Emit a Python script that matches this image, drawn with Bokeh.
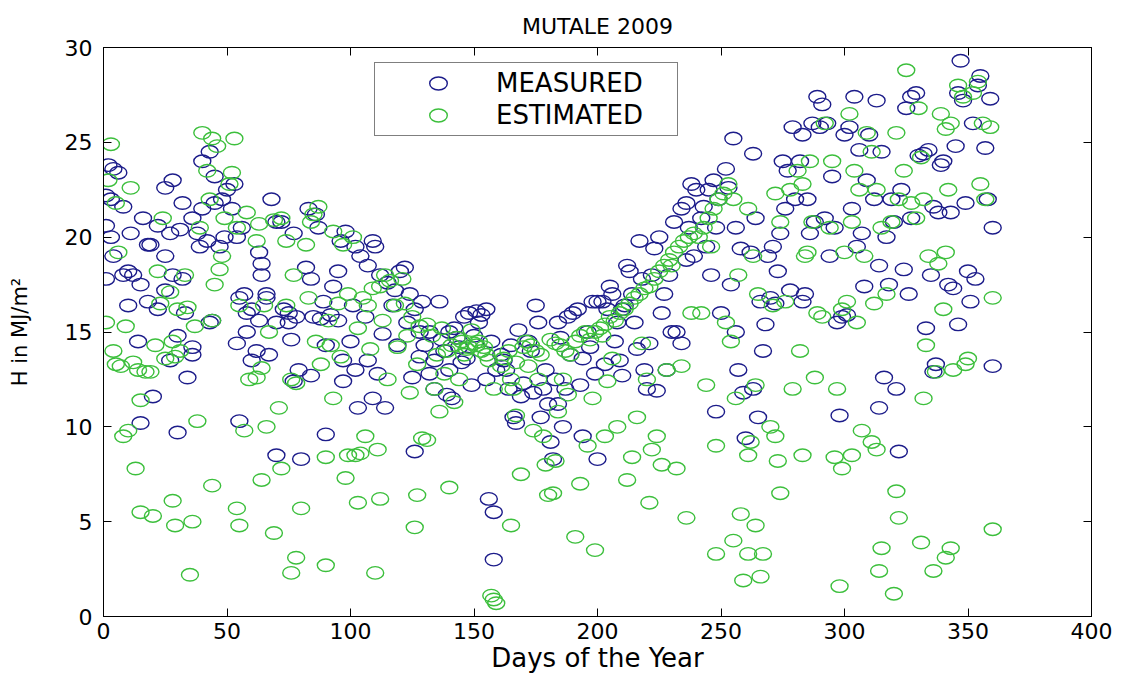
from bokeh.plotting import figure
from bokeh.models import (LinearAxis, FixedTicker, Legend, LegendItem,
                          ColumnDataSource, Range1d)
from bokeh.embed import file_html
from bokeh.resources import INLINE

TITLE = "MUTALE 2009"
X_LABEL = "Days of the Year"
Y_LABEL = "H in MJ/m\u00b2"
X_TICKS = [0, 50, 100, 150, 200, 250, 300, 350, 400]
Y_TICKS = [0, 5, 10, 15, 20, 25, 30]
SERIES_NAMES = ["MEASURED", "ESTIMATED"]

measured_day = [
    2, 4, 6, 1, 1, 3, 4, 8, 1, 8, 3, 10, 10,
    12, 15, 14, 18, 15, 20, 18, 19, 16, 11,
    22, 25, 27, 25, 22, 28, 30, 30, 27, 28, 25,
    32, 31, 32, 36, 36, 34, 38, 39, 40, 40, 36, 33,
    43, 45, 48, 42, 45, 44, 43, 47, 50, 49,
    53, 54, 55, 54, 55, 57, 58, 60, 58, 56, 52, 60,
    63, 64, 63, 66, 67, 68, 70, 70, 66, 62, 70, 64,
    73, 75, 78, 77, 77, 80, 75, 72, 76, 79,
    83, 86, 87, 84, 82, 85, 84, 88, 90, 89,
    92, 90, 93, 96, 95, 97, 95, 98, 100, 97,
    102, 104, 101, 102, 103, 107, 109, 106, 107, 109,
    110, 112, 115, 118, 113, 111, 114, 117, 120, 119,
    122, 124, 126, 123, 128, 125, 126, 130, 128, 129,
    132, 134, 132, 137, 136, 138, 140, 139, 140, 134,
    143, 145, 146, 148, 150, 147, 149, 142, 141, 144,
    151, 153, 155, 157, 156, 158, 158, 159, 152, 155,
    162, 163, 165, 166, 167, 164, 168, 170, 169, 161,
    172, 175, 176, 174, 177, 178, 173, 179, 180, 181,
    182, 183, 185, 188, 190, 187, 186, 184, 189, 184,
    192, 194, 193, 194, 196, 198, 197, 199, 200, 200,
    202, 204, 203, 206, 208, 210, 207, 209, 205, 210,
    212, 214, 215, 217, 218, 219, 213, 216, 220, 211,
    222, 223, 224, 227, 226, 228, 230, 229, 225, 221,
    234, 236, 237, 238, 240, 232, 234, 239, 236, 231,
    242, 245, 247, 248, 248, 250, 244, 243, 246, 249,
    252, 255, 253, 256, 258, 256, 257, 260, 259, 254,
    263, 264, 262, 266, 268, 267, 265, 263, 269, 270,
    275, 277, 279, 276, 274, 278, 272, 280, 271, 273,
    282, 283, 285, 287, 289, 286, 284, 283, 288, 290,
    291, 293, 295, 296, 297, 299, 298, 294, 292, 300,
    304, 302, 306, 303, 305, 308, 307, 309, 301, 310,
    313, 312, 314, 316, 314, 318, 317, 319, 320, 315,
    325, 327, 329, 323, 327, 324, 321, 322, 330, 326,
    332, 334, 336, 338, 335, 333, 337, 339, 336, 340,
    347, 346, 348, 345, 343, 344, 342, 346, 349, 350,
    355, 354, 352, 357, 358, 360, 353, 351, 360, 359,
]
measured_h = [
    23.8, 23.6, 23.4, 22.2, 20.6, 20.0, 19.0, 18.0, 17.8, 21.6, 22.0, 16.4, 18.2,
    18.0, 17.5, 14.5, 19.6, 10.2, 11.6, 16.6, 19.6, 21.0, 20.2,
    20.6, 22.6, 20.2, 17.2, 16.2, 23.0, 14.8, 9.7, 13.5, 18.0, 19.0,
    21.8, 20.4, 17.8, 14.2, 13.8, 12.6, 20.2, 19.5, 21.5, 24.0, 21.0, 16.0,
    24.5, 23.2, 22.0, 19.8, 21.8, 15.6, 15.5, 19.5, 22.5, 20.0,
    22.8, 20.0, 16.8, 14.4, 10.3, 17.0, 16.0, 16.2, 15.0, 20.5, 21.5, 13.5,
    19.2, 18.6, 15.6, 17.0, 13.8, 22.0, 15.5, 8.5, 16.8, 14.0, 20.8, 18.0,
    16.2, 15.5, 15.8, 20.2, 12.4, 8.3, 16.0, 20.8, 14.6, 13.0,
    21.5, 21.2, 20.5, 17.8, 18.4, 15.8, 12.7, 15.7, 9.6, 16.6,
    15.9, 14.3, 17.4, 19.8, 15.6, 13.5, 18.2, 20.3, 14.5, 12.4,
    19.5, 19.0, 16.4, 13.0, 11.0, 18.5, 19.8, 15.8, 13.5, 11.5,
    19.5, 18.0, 17.6, 17.2, 14.9, 12.8, 11.0, 16.4, 18.2, 14.3,
    18.4, 17.0, 16.2, 15.5, 13.7, 12.6, 8.7, 14.3, 15.0, 16.6,
    15.0, 13.5, 12.8, 14.6, 16.6, 14.0, 13.0, 11.7, 15.0, 12.0,
    14.7, 13.4, 15.8, 16.0, 14.8, 13.6, 12.2, 15.2, 11.5, 14.2,
    16.1, 15.9, 16.2, 14.5, 6.2, 5.5, 3.0, 13.0, 15.5, 12.5,
    13.5, 13.0, 14.3, 10.5, 10.2, 12.0, 15.1, 12.3, 11.6, 13.8,
    14.5, 16.4, 15.5, 11.8, 10.5, 12.0, 14.0, 13.0, 11.2, 9.2,
    8.3, 12.5, 14.7, 15.8, 16.0, 12.0, 10.0, 11.2, 13.8, 15.5,
    16.2, 13.6, 12.2, 9.5, 15.0, 16.6, 14.2, 12.8, 8.3, 16.6,
    16.6, 16.2, 13.3, 17.0, 15.5, 16.2, 14.5, 13.5, 17.4, 12.7,
    18.5, 17.0, 15.5, 19.8, 17.8, 13.0, 18.2, 14.1, 12.0, 16.4,
    18.0, 19.4, 11.9, 17.0, 16.0, 13.0, 15.0, 18.0, 20.0, 14.4,
    21.5, 21.8, 20.5, 22.8, 22.5, 15.0, 14.4, 19.0, 18.8, 20.8,
    21.0, 22.5, 23.0, 20.5, 10.8, 16.0, 19.5, 21.6, 18.0, 22.0,
    23.6, 25.2, 22.6, 20.5, 19.4, 15.0, 13.0, 9.4, 11.8, 17.5,
    24.4, 21.0, 19.2, 16.6, 15.4, 14.0, 10.5, 12.0, 19.0, 16.8,
    24.0, 23.5, 25.8, 21.5, 20.2, 17.2, 16.5, 22.0, 19.5, 18.2,
    24.0, 25.4, 22.0, 26.0, 27.4, 20.2, 17.0, 16.6, 20.8, 25.8,
    27.0, 26.0, 23.2, 20.5, 15.5, 15.8, 10.6, 19.0, 21.0, 25.4,
    27.4, 25.8, 24.6, 21.5, 19.5, 17.4, 20.2, 23.0, 15.9, 25.4,
    27.2, 22.0, 18.5, 12.6, 11.0, 17.5, 20.0, 22.0, 20.8, 24.5,
    26.8, 27.4, 27.6, 22.5, 21.0, 18.3, 12.0, 8.7, 24.3, 17.0,
    24.4, 24.6, 21.6, 21.3, 18.0, 15.2, 13.3, 23.8, 12.9, 24.0,
    29.3, 27.6, 27.2, 24.8, 21.3, 17.3, 17.5, 15.4, 21.8, 18.2,
    28.5, 28.0, 26.0, 24.7, 22.0, 20.5, 17.8, 16.6, 13.2, 27.3,
]

estimated_day = [
    3, 2, 5, 6, 1, 4, 5, 7, 9, 8,
    10, 12, 14, 15, 13, 15, 17, 19, 11, 20,
    21, 23, 22, 27, 25, 28, 29, 28, 29, 24,
    35, 36, 34, 37, 31, 33, 38, 40, 39, 30,
    44, 46, 43, 48, 45, 47, 44, 44, 49, 42,
    53, 52, 51, 55, 54, 58, 54, 55, 59, 57,
    63, 62, 65, 64, 62, 66, 64, 69, 69, 67,
    72, 74, 74, 78, 76, 71, 72, 78, 76, 77,
    85, 87, 84, 82, 83, 88, 86, 90, 90, 80,
    93, 97, 95, 91, 96, 98, 99, 93, 99, 92,
    101, 103, 107, 102, 104, 106, 103, 109, 108, 105,
    112, 114, 116, 113, 115, 111, 112, 110, 118, 119,
    121, 122, 125, 123, 127, 124, 129, 127, 126, 128,
    131, 133, 135, 137, 139, 138, 131, 136, 140, 134,
    141, 143, 145, 147, 148, 150, 144, 142, 146, 149,
    151, 152, 153, 154, 155, 156, 157, 158, 159, 158,
    161, 162, 164, 165, 166, 167, 165, 169, 167, 170,
    171, 173, 175, 177, 176, 178, 179, 180, 174, 172,
    181, 183, 185, 187, 189, 182, 183, 186, 184, 188,
    191, 193, 195, 197, 199, 193, 191, 199, 196, 198,
    201, 203, 205, 207, 209, 203, 206, 202, 208, 204,
    211, 213, 215, 217, 219, 214, 212, 218, 216, 220,
    221, 223, 225, 227, 229, 222, 221, 224, 226, 228,
    231, 233, 235, 237, 239, 232, 236, 234, 238, 230,
    241, 243, 245, 247, 249, 242, 244, 248, 248, 246,
    251, 253, 255, 257, 252, 254, 256, 258, 259, 255,
    261, 263, 265, 264, 262, 261, 264, 261, 266, 267,
    272, 274, 276, 270, 272, 273, 274, 279, 271, 278,
    281, 283, 285, 287, 288, 283, 282, 284, 286, 289,
    292, 295, 294, 291, 297, 296, 298, 299, 300, 299,
    302, 304, 306, 303, 301, 305, 303, 307, 308, 309,
    311, 313, 315, 312, 311, 313, 315, 314, 317, 319,
    321, 325, 324, 327, 322, 321, 320, 322, 329, 330,
    331, 332, 334, 333, 332, 331, 336, 337, 338, 339,
    341, 343, 346, 348, 342, 341, 340, 344, 343, 341,
    354, 352, 356, 359, 355, 357, 360, 350, 349, 360,
]
estimated_h = [
    24.9, 23.0, 21.8, 19.2, 15.5, 14.0, 13.3, 13.2, 15.3, 9.5,
    9.8, 13.4, 13.0, 11.4, 7.8, 5.5, 12.9, 12.9, 22.6, 5.3,
    14.3, 16.5, 18.2, 17.1, 13.6, 14.5, 13.7, 6.1, 4.8, 21.0,
    2.2, 5.0, 16.3, 15.3, 14.0, 18.0, 10.3, 25.5, 20.5, 16.2,
    25.2, 24.8, 22.0, 19.0, 17.5, 18.3, 15.6, 6.9, 21.0, 23.5,
    25.2, 23.4, 22.8, 16.4, 20.5, 21.3, 5.7, 4.8, 12.5, 9.8,
    20.7, 19.8, 16.4, 13.1, 12.6, 10.0, 7.2, 4.4, 20.9, 15.0,
    21.0, 19.8, 16.4, 12.3, 12.5, 11.0, 7.8, 3.1, 2.3, 18.0,
    21.2, 21.6, 20.8, 19.6, 16.8, 13.3, 14.5, 8.4, 2.7, 5.7,
    20.3, 19.6, 16.5, 15.6, 13.7, 7.3, 8.5, 11.5, 17.0, 14.3,
    20.0, 15.2, 16.4, 8.5, 8.6, 9.5, 6.0, 17.3, 14.1, 16.8,
    17.4, 18.0, 17.7, 15.6, 12.5, 8.8, 6.2, 2.3, 16.4, 14.2,
    17.8, 16.5, 15.8, 14.8, 13.3, 11.8, 9.4, 6.4, 4.7, 15.3,
    15.4, 14.8, 13.8, 15.2, 14.0, 12.8, 9.3, 10.8, 6.8, 12.0,
    14.3, 14.7, 14.5, 14.1, 14.2, 14.4, 12.5, 11.3, 13.8, 15.1,
    14.3, 14.5, 14.0, 14.2, 13.8, 13.5, 1.1, 0.9, 0.7, 12.0,
    13.2, 13.6, 14.0, 12.5, 12.0, 13.4, 4.8, 7.5, 10.6, 14.2,
    14.5, 14.3, 14.0, 13.8, 12.5, 9.5, 8.0, 6.4, 9.8, 13.2,
    14.6, 14.4, 14.3, 14.0, 13.8, 6.5, 8.2, 12.5, 10.8, 11.7,
    14.5, 14.8, 15.0, 14.6, 15.0, 7.0, 4.2, 3.5, 9.0, 11.5,
    15.2, 15.4, 15.8, 15.6, 16.0, 9.5, 13.6, 14.8, 10.0, 12.4,
    16.2, 16.5, 16.8, 17.0, 17.3, 8.4, 7.2, 14.4, 10.5, 12.5,
    17.4, 17.8, 18.2, 18.5, 18.8, 8.8, 6.0, 9.5, 8.0, 13.0,
    19.2, 19.5, 19.8, 20.0, 20.2, 7.8, 5.2, 13.2, 16.0, 18.5,
    20.0, 20.5, 21.0, 21.5, 22.0, 16.0, 12.2, 9.0, 3.3, 19.5,
    22.3, 22.8, 22.0, 18.0, 15.5, 14.5, 11.5, 5.4, 1.9, 4.0,
    21.5, 19.0, 17.0, 12.2, 9.2, 8.5, 4.8, 3.3, 2.1, 3.3,
    22.3, 20.8, 16.6, 10.0, 9.5, 8.2, 6.5, 12.0, 16.4, 22.5,
    23.5, 22.8, 19.2, 20.8, 12.6, 8.5, 14.0, 19.0, 24.0, 16.0,
    26.0, 24.0, 20.5, 15.8, 12.0, 8.4, 1.6, 7.8, 19.2, 16.2,
    26.5, 23.5, 22.5, 20.8, 16.6, 15.5, 8.5, 9.8, 19.0, 25.5,
    24.5, 22.5, 20.5, 16.5, 9.2, 8.8, 3.6, 2.4, 17.0, 20.8,
    25.5, 28.8, 23.5, 21.8, 22.0, 6.6, 1.2, 5.2, 21.0, 26.8,
    24.2, 22.0, 19.0, 14.3, 11.5, 3.9, 2.4, 12.9, 18.6, 26.5,
    25.7, 26.0, 28.0, 27.4, 22.5, 19.2, 16.2, 13.0, 3.6, 3.1,
    28.2, 27.6, 26.0, 25.8, 22.8, 22.0, 16.8, 13.6, 13.3, 4.6,
]

FONT = "DejaVu Sans"
BLUE = "#1c1c8a"
GREEN = "#3cbf3c"

p = figure(width=1123, height=680,
           min_border_left=103, min_border_right=32,
           min_border_top=47, min_border_bottom=64,
           x_range=Range1d(0, 400), y_range=Range1d(0, 30),
           output_backend="svg", toolbar_location=None, title=TITLE)
p.background_fill_color = "white"
p.border_fill_color = "white"
p.outline_line_color = "black"
p.outline_line_width = 1
p.grid.visible = False

p.title.align = "center"
p.title.text_font = FONT
p.title.text_font_size = "22px"
p.title.text_font_style = "normal"
p.title.text_color = "black"
p.title.standoff = 18

src_m = ColumnDataSource(dict(x=measured_day, y=measured_h))
src_e = ColumnDataSource(dict(x=estimated_day, y=estimated_h))
r_m = p.ellipse("x", "y", source=src_m, width=17, height=12.5,
                width_units="screen", height_units="screen",
                fill_color=None, line_color=BLUE, line_width=1.4)
r_e = p.ellipse("x", "y", source=src_e, width=17, height=12.5,
                width_units="screen", height_units="screen",
                fill_color=None, line_color=GREEN, line_width=1.4)

xa = p.xaxis[0]
ya = p.yaxis[0]
top_ax = LinearAxis()
right_ax = LinearAxis()
p.add_layout(top_ax, "above")
p.add_layout(right_ax, "right")

for ax, ticks, show in [(xa, X_TICKS, True), (top_ax, X_TICKS, False),
                        (ya, Y_TICKS, True), (right_ax, Y_TICKS, False)]:
    ax.ticker = FixedTicker(ticks=ticks)
    ax.major_tick_in = 8
    ax.major_tick_out = 0
    ax.minor_tick_in = 0
    ax.minor_tick_out = 0
    ax.axis_line_color = "black"
    ax.major_tick_line_color = "black"
    ax.major_label_text_font = FONT
    ax.major_label_text_font_size = "22px" if show else "0px"
    ax.major_label_text_color = "black" if show else None
    ax.major_label_standoff = 6 if show else 0

ya.major_label_standoff = 11

xa.axis_label = X_LABEL
xa.axis_label_text_font = FONT
xa.axis_label_text_font_size = "26px"
xa.axis_label_text_font_style = "normal"
xa.axis_label_text_color = "black"
xa.axis_label_standoff = 1

ya.axis_label = Y_LABEL
ya.axis_label_text_font = FONT
ya.axis_label_text_font_size = "21px"
ya.axis_label_text_font_style = "normal"
ya.axis_label_text_color = "black"
ya.axis_label_standoff = 30

legend = Legend(items=[LegendItem(label=SERIES_NAMES[0], renderers=[r_m]),
                       LegendItem(label=SERIES_NAMES[1], renderers=[r_e])],
                location=(271, 480))
legend.border_line_color = "black"
legend.border_line_width = 1
legend.background_fill_color = "white"
legend.background_fill_alpha = 1
legend.label_text_font = FONT
legend.label_text_font_size = "26px"
legend.label_text_color = "black"
legend.glyph_width = 116
legend.glyph_height = 22
legend.label_height = 30
legend.label_width = 176
legend.label_standoff = 0
legend.spacing = 2
legend.padding = 5
legend.margin = 0
p.add_layout(legend)

open("out.html", "w").write(file_html(p, INLINE))
